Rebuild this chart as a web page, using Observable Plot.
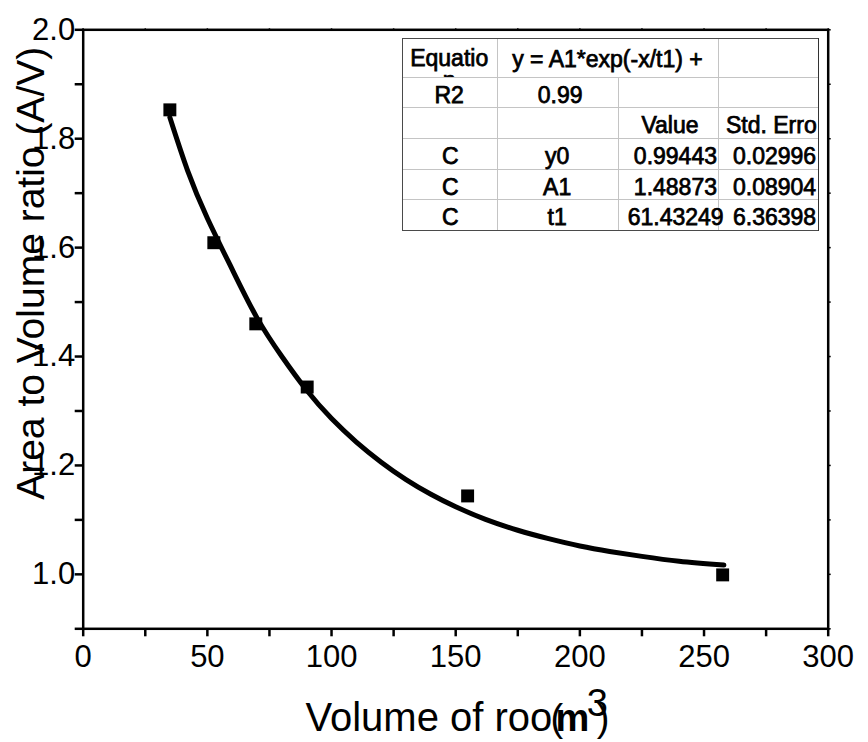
<!DOCTYPE html>
<html>
<head>
<meta charset="utf-8">
<script src="https://cdn.jsdelivr.net/npm/d3@7"></script>
<script src="https://cdn.jsdelivr.net/npm/@observablehq/plot@0.6"></script>
<style>
  html, body { margin: 0; padding: 0; background: #fff; }
  #wrap { position: relative; width: 868px; height: 742px; overflow: hidden; }
  #wrap svg { position: absolute; left: 0; top: 0; }
</style>
</head>
<body>
<div id="wrap"></div>
<script>
// ---- data ----
const volumes = [34.9, 52.6, 69.5, 90.2, 154.8, 257.5];
const ratios  = [1.853, 1.609, 1.460, 1.344, 1.144, 0.999];

// fitted curve
const fitX = [34.9, 42, 50, 60, 70, 80, 90, 100, 110, 120, 130, 140, 150, 162, 175, 187, 200, 212, 225, 240, 258];
const fitY = [1.839, 1.742, 1.654, 1.560, 1.471, 1.400, 1.338, 1.286, 1.243, 1.206, 1.174, 1.147, 1.124, 1.101, 1.081, 1.066, 1.052, 1.042, 1.033, 1.024, 1.017];

const xMajorTicks = [0, 50, 100, 150, 200, 250, 300];
const xMinorTicks = [25, 75, 125, 175, 225, 275];
const yMajorTicks = [1.0, 1.2, 1.4, 1.6, 1.8, 2.0];
const yMinorTicks = [0.9, 1.1, 1.3, 1.5, 1.7, 1.9];

const xTitle = "Volume of roo";
const xTitleUnit = ["(", "m", "3", ")"];
const yTitle = "Area to Volume ratio (A/V)";

// fit table
const tableEquationLabel = "Equation";
const tableEquation = "y = A1*exp(-x/t1) +";
const tableR2 = ["R2", "0.99"];
const tableHeaders = ["Value", "Std. Erro"];
const paramTypes = ["C", "C", "C"];
const paramNames = ["y0", "A1", "t1"];
const paramValues = ["0.99443", "1.48873", "61.43249"];
const paramErrors = ["0.02996", "0.08904", "6.36398"];

// ---- chart ----
const points = volumes.map((v, i) => ({x: v, y: ratios[i]}));
const fit = fitX.map((v, i) => ({x: v, y: fitY[i]}));
const allX = [...xMajorTicks, ...xMinorTicks];
const allY = [...yMajorTicks, ...yMinorTicks];

const titleFont = "Liberation Sans";
const chart = Plot.plot({
  width: 868,
  height: 742,
  marginLeft: 82.7,
  marginRight: 40.3,
  marginTop: 29.3,
  marginBottom: 113.7,
  x: {domain: [0, 300]},
  y: {domain: [0.9, 2.0]},
  style: {fontFamily: "Liberation Sans", background: "transparent", color: "black", overflow: "visible"},
  marks: [
    Plot.axisX(xMajorTicks, {anchor: "bottom", tickSize: 8, tickPadding: 8, strokeWidth: 2.5, fontSize: 31, tickFormat: d3.format("d"), label: null}),
    Plot.axisX(xMinorTicks, {anchor: "bottom", tickSize: 8, strokeWidth: 2.5, tickFormat: () => "", label: null}),
    Plot.axisY(yMajorTicks, {anchor: "left", tickSize: 8, tickPadding: 0, strokeWidth: 2.5, fontSize: 31, tickFormat: d3.format(".1f"), label: null}),
    Plot.axisY(yMinorTicks, {anchor: "left", tickSize: 8, strokeWidth: 2.5, tickFormat: () => "", label: null}),
    Plot.axisX(allX, {anchor: "top", tickSize: 2, strokeWidth: 1.5, tickFormat: () => "", label: null}),
    Plot.axisY(allY, {anchor: "right", tickSize: 2, strokeWidth: 1.5, tickFormat: () => "", label: null}),
    Plot.frame({stroke: "black", strokeWidth: 2.5}),
    Plot.line(fit, {x: "x", y: "y", curve: "natural", stroke: "black", strokeWidth: 5}),
    Plot.dot(points, {x: "x", y: "y", symbol: "square", r: 7.3, fill: "black", stroke: "none"}),
    // y title
    Plot.text([yTitle], {text: d => d, frameAnchor: "left", rotate: -90, dx: -38.7, dy: -56, textAnchor: "middle", lineAnchor: "bottom", fontSize: 39, fontFamily: titleFont}),
    // x title
    Plot.text([xTitle], {text: d => d, frameAnchor: "bottom", dx: -150.2, dy: 101.7, textAnchor: "start", lineAnchor: "bottom", fontSize: 40, fontFamily: titleFont}),
    Plot.text([xTitleUnit[0]], {text: d => d, frameAnchor: "bottom", dx: 94.8, dy: 101.7, textAnchor: "start", lineAnchor: "bottom", fontSize: 38, fontFamily: titleFont}),
    Plot.text([xTitleUnit[1]], {text: d => d, frameAnchor: "bottom", dx: 99.8, dy: 101.7, textAnchor: "start", lineAnchor: "bottom", fontSize: 38, fontWeight: "bold", fontFamily: titleFont}),
    Plot.text([xTitleUnit[2]], {text: d => d, frameAnchor: "bottom", dx: 131, dy: 86.7, textAnchor: "start", lineAnchor: "bottom", fontSize: 38, fontFamily: titleFont}),
    Plot.text([xTitleUnit[3]], {text: d => d, frameAnchor: "bottom", dx: 141, dy: 101.7, textAnchor: "start", lineAnchor: "bottom", fontSize: 38, fontFamily: titleFont})
  ]
});
const wrap = document.getElementById("wrap");
wrap.appendChild(chart);

// ---- fit table overlay ----
const box = document.createElement("div");
box.style.cssText = "position:absolute;left:401.7px;top:38.3px;width:417.6px;height:192.9px;background:#fff;overflow:hidden;font-family:'Liberation Sans';font-size:23px;color:#000;-webkit-text-stroke:0.75px #000;";
wrap.appendChild(box);
const colX = [0, 95, 216, 316.6, 417.6];
const rowY = [0, 38.4, 69, 99.4, 130.5, 161, 192.9];

function line(x, y, w, h, color) {
  const d = document.createElement("div");
  d.style.cssText = `position:absolute;left:${x}px;top:${y}px;width:${w}px;height:${h}px;background:${color};-webkit-text-stroke:0;`;
  box.appendChild(d);
}
function cell(c0, c1, r, text, align, padL, padR) {
  const d = document.createElement("div");
  d.style.cssText = `position:absolute;left:${colX[c0]}px;top:${rowY[r]}px;width:${colX[c1] - colX[c0]}px;height:${rowY[r + 1] - rowY[r]}px;line-height:${rowY[r + 1] - rowY[r]}px;text-align:${align};white-space:nowrap;box-sizing:border-box;padding-top:3px;padding-left:${padL || 0}px;padding-right:${padR || 0}px;`;
  d.textContent = text;
  box.appendChild(d);
}
function centeredCell(c0, c1, r, text) {
  // centred text that may overflow on both sides
  const d = document.createElement("div");
  d.style.cssText = `position:absolute;left:${colX[c0]}px;top:${rowY[r]}px;width:${colX[c1] - colX[c0]}px;height:${rowY[r + 1] - rowY[r]}px;display:flex;align-items:center;justify-content:center;white-space:nowrap;box-sizing:border-box;padding-top:4px;`;
  const s = document.createElement("span");
  s.style.flex = "none";
  s.textContent = text;
  d.appendChild(s);
  box.appendChild(d);
}
// inner grid lines
const inner = "#c4c4c4";
for (let r = 1; r < rowY.length - 1; r++) line(0, rowY[r], colX[4], 1, inner);
line(colX[1], 0, 1, rowY[6], inner);
line(colX[2], rowY[1], 1, rowY[6] - rowY[1], inner);
line(colX[3], 0, 1, rowY[6], inner);

// row 1: wrapped & clipped "Equation"
const eq = document.createElement("div");
eq.style.cssText = `position:absolute;left:0;top:0;width:${colX[1]}px;height:${rowY[1]}px;overflow:hidden;text-align:center;padding:8.4px 3px 0 3px;box-sizing:border-box;line-height:22px;word-break:break-all;`;
eq.textContent = tableEquationLabel;
box.appendChild(eq);
centeredCell(1, 3, 0, tableEquation);
// row 2
cell(0, 1, 1, tableR2[0], "center");
cell(1, 2, 1, tableR2[1], "center", 6, 0);
// row 3
cell(2, 3, 2, tableHeaders[0], "center", 4, 0);
cell(3, 4, 2, tableHeaders[1], "left", 7.7, 0);
// parameter rows
paramNames.forEach((n, i) => {
  cell(0, 1, 3 + i, paramTypes[i], "center", 2, 0);
  cell(1, 2, 3 + i, n, "center");
  cell(2, 3, 3 + i, paramValues[i], "right", 10, 1.3);
  cell(3, 4, 3 + i, paramErrors[i], "left", 14.7, 0);
});

// outer border (drawn last, on top of text)
const outer = "#4a4a4a";
line(0, 0, colX[4], 1, outer);
line(0, rowY[6] - 1, colX[4], 1, outer);
line(0, 0, 1, rowY[6], outer);
line(colX[4] - 1.5, 0, 1.5, rowY[6], "#333");
</script>
</body>
</html>
